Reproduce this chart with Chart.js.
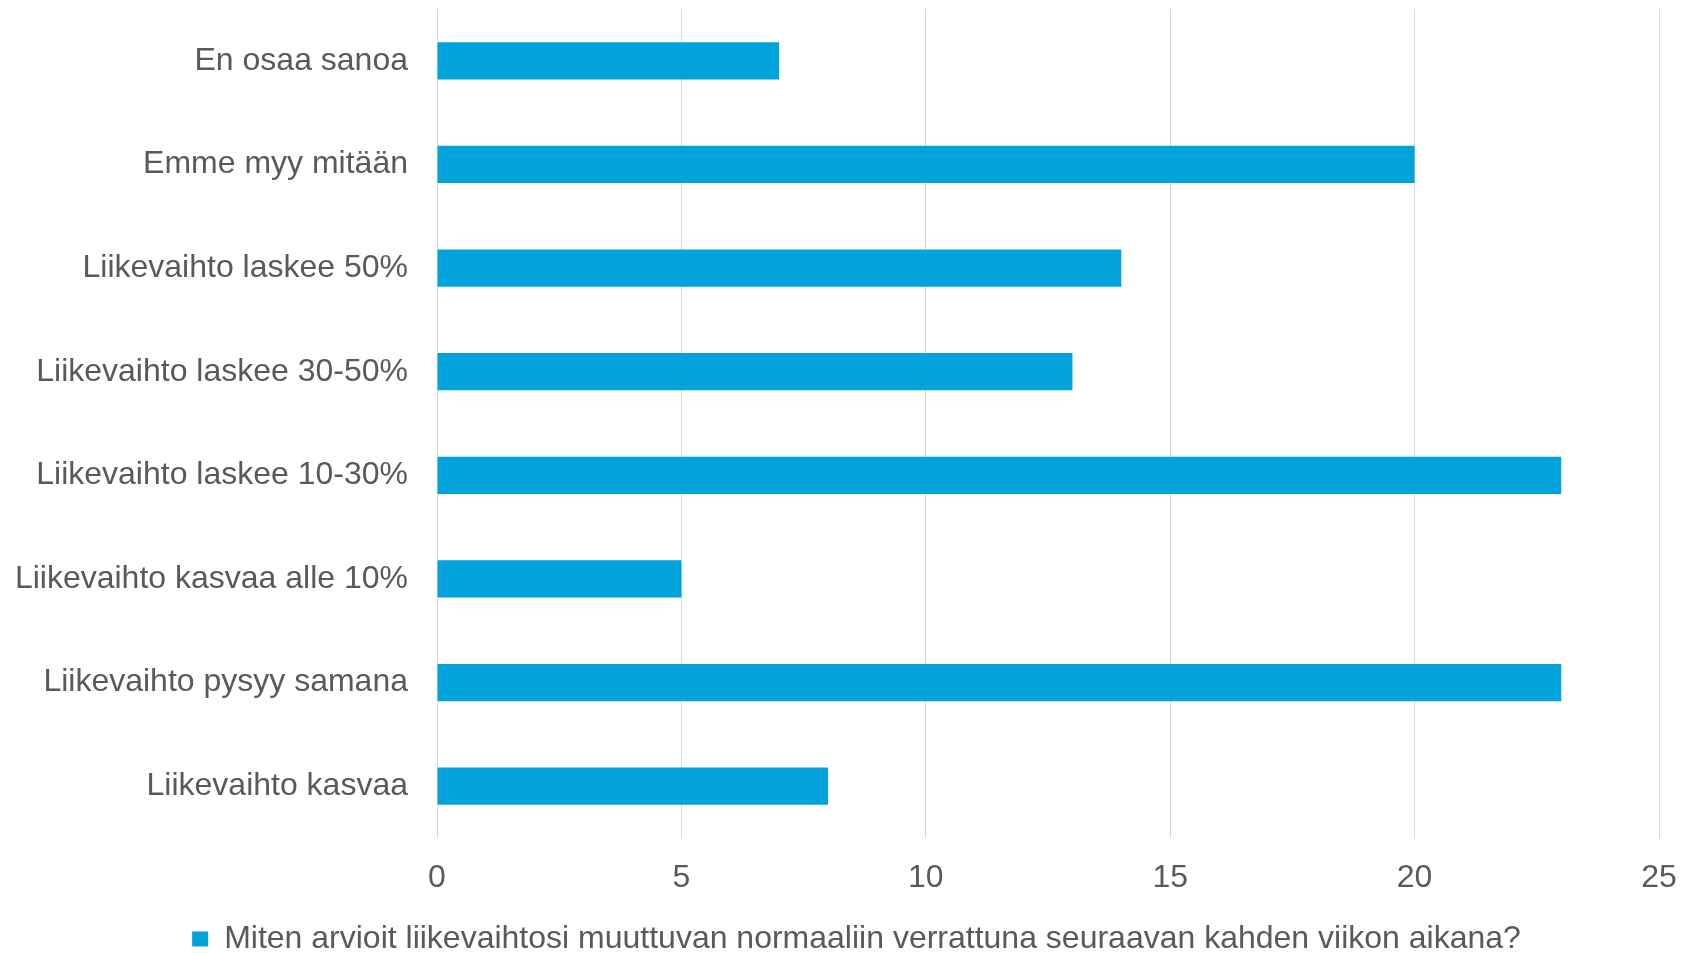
<!DOCTYPE html>
<html>
<head>
<meta charset="utf-8">
<script src="https://cdn.jsdelivr.net/npm/chart.js@4/dist/chart.umd.min.js"></script>
<style>
html,body{margin:0;padding:0;background:#fff;}
#wrap{width:1685px;height:953px;}
</style>
</head>
<body>
<div id="wrap"><canvas id="c" width="1685" height="953"></canvas></div>
<script>
const categories = [
  "En osaa sanoa",
  "Emme myy mitään",
  "Liikevaihto laskee 50%",
  "Liikevaihto laskee 30-50%",
  "Liikevaihto laskee 10-30%",
  "Liikevaihto kasvaa alle 10%",
  "Liikevaihto pysyy samana",
  "Liikevaihto kasvaa"
];
const seriesName = "Miten arvioit liikevaihtosi muuttuvan normaaliin verrattuna seuraavan kahden viikon aikana?";
const values = [7, 20, 14, 13, 23, 5, 23, 8];
const xTicks = [0, 5, 10, 15, 20, 25];

const FONT = "'Liberation Sans', Arial, sans-serif";
const TEXT = "#595959";

const shiftLegend = {
  id: 'shiftLegend',
  afterLayout(chart) {
    if (chart.legend) { chart.legend.left += 27; chart.legend.right += 27; }
  }
};

new Chart(document.getElementById('c'), {
  type: 'bar',
  data: {
    labels: categories,
    datasets: [{
      label: seriesName,
      data: values,
      backgroundColor: '#02A3DA',
      borderWidth: 0,
      barPercentage: 0.36,
      categoryPercentage: 1.0
    }]
  },
  plugins: [shiftLegend],
  options: {
    indexAxis: 'y',
    responsive: false,
    animation: false,
    layout: { padding: { top: 9, right: 26, left: 0, bottom: -12 } },
    plugins: {
      tooltip: { enabled: false },
      legend: {
        position: 'bottom',
        labels: {
          boxWidth: 16,
          boxHeight: 15,
          padding: 3,
          color: TEXT,
          font: { family: FONT, size: 32 }
        }
      }
    },
    scales: {
      x: {
        min: xTicks[0],
        max: xTicks[xTicks.length - 1],
        afterBuildTicks: (s) => { s.ticks = xTicks.map(v => ({ value: v })); },
        afterFit: (s) => { s.height = 82; s.paddingLeft = 0; s.paddingRight = 0; s.paddingTop = 0; s.paddingBottom = 0; },
        grid: { color: '#D9D9D9', lineWidth: 1, drawTicks: false },
        border: { display: false },
        ticks: { color: TEXT, padding: 21, font: { family: FONT, size: 32 } }
      },
      y: {
        afterFit: (s) => { s.width = 437; s.paddingLeft = 0; s.paddingRight = 0; s.paddingTop = 0; s.paddingBottom = 0; },
        grid: { display: false, drawTicks: false },
        border: { display: false },
        ticks: { color: TEXT, padding: 29, font: { family: FONT, size: 32 } }
      }
    }
  }
});
</script>
</body>
</html>
